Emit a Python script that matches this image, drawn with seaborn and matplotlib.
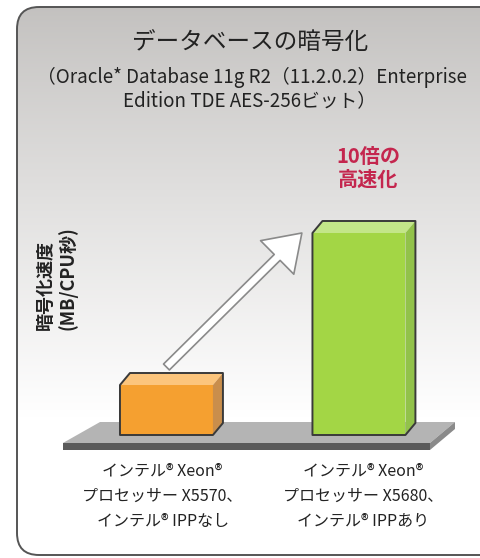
import numpy as np
import matplotlib
matplotlib.use("Agg")
import matplotlib.pyplot as plt
from matplotlib.patches import FancyBboxPatch, Polygon
import seaborn as sns

# データ
categories = [
    "インテル® Xeon®\nプロセッサー X5570、\nインテル® IPPなし",
    "インテル® Xeon®\nプロセッサー X5680、\nインテル® IPPあり",
]
speed = [1.0, 4.04]  # 相対的な暗号化速度 (棒の高さから読み取り)
front_colors = ["#f5a030", "#a3d645"]
top_colors = ["#fcc57c", "#c3e689"]
side_colors = ["#c98e4c", "#92c24a"]

title = "データベースの暗号化"
subtitle1 = "（Oracle* Database 11g R2（11.2.0.2）Enterprise"
subtitle2 = "Edition TDE AES-256ビット）"
ylabel = "暗号化速度\n(MB/CPU秒)"
callout = "10倍の\n高速化"

sns.set_theme(style="white")
plt.rcParams["font.family"] = ["Noto Sans CJK JP", "DejaVu Sans"]

W, H = 481, 558
fig = plt.figure(figsize=(W / 100, H / 100), dpi=100)
fig.patch.set_facecolor("white")

# 背景パネル (グラデーション + 角丸枠)
bg = fig.add_axes([0, 0, 1, 1])
bg.set_xlim(0, W)
bg.set_ylim(H, 0)
bg.axis("off")
t = np.clip((np.arange(H) - 7) / 410.0, 0, 1)[:, None]
top_rgb = np.array([0.765, 0.757, 0.750])
grad = top_rgb + (1 - top_rgb) * t[..., None] ** 0.9
grad = np.repeat(grad, 2, axis=1)
img = bg.imshow(grad, extent=(0, W, H, 0), aspect="auto", zorder=0)
panel = FancyBboxPatch((17, 7), 520, 548, boxstyle="round,pad=0,rounding_size=22",
                       facecolor="none", edgecolor="#555555", lw=1.4, zorder=2)
bg.add_patch(panel)
img.set_clip_path(panel)

# メインの軸
ax = fig.add_axes([50 / W, (H - 460) / H, 420 / W, 300 / H])
ax.patch.set_alpha(0)
bar_w = 0.483
sns.barplot(x=[0, 1], y=speed, hue=[0, 1], palette=front_colors, legend=False,
            saturation=1, width=bar_w, native_scale=True, ax=ax, zorder=3)
ax.set_xlim(-0.605, 1.577)
ax.set_ylim(-0.5, 5.5)
ax.axis("off")

# 奥行き (ピクセル -> データ)
dx = 10 / 192.5
dy = 12 / 50.0

# 床の板
floor_top = Polygon([(-0.538, -0.16), (-0.345, 0.26), (1.499, 0.26), (1.369, -0.16)],
                    closed=True, facecolor="#b4b4b4", edgecolor="none", zorder=1)
floor_front = Polygon([(-0.538, -0.16), (1.369, -0.16), (1.369, -0.30), (-0.538, -0.30)],
                      closed=True, facecolor="#5a5a5a", edgecolor="none", zorder=1)
floor_side = Polygon([(1.369, -0.16), (1.499, 0.26), (1.499, 0.12), (1.369, -0.30)],
                     closed=True, facecolor="#8a8a8a", edgecolor="none", zorder=1)
for p in (floor_top, floor_front, floor_side):
    ax.add_patch(p)

# 3D風の棒
for i, bar in enumerate(ax.patches[:len(speed)]):
    x0 = bar.get_x()
    x1 = x0 + bar.get_width()
    h = bar.get_height()
    bar.set_edgecolor("none")
    top = Polygon([(x0, h), (x0 + dx, h + dy), (x1 + dx, h + dy), (x1, h)],
                  closed=True, facecolor=top_colors[i], edgecolor="none", zorder=3)
    side = Polygon([(x1, h), (x1 + dx, h + dy), (x1 + dx, dy), (x1, 0)],
                   closed=True, facecolor=side_colors[i], edgecolor="none", zorder=3)
    outline = Polygon([(x0, 0), (x0, h), (x0 + dx, h + dy), (x1 + dx, h + dy),
                       (x1 + dx, dy), (x1, 0)],
                      closed=True, facecolor="none", edgecolor="#3a3a3a", lw=1.4,
                      joinstyle="round", zorder=4)
    for p in (top, side, outline):
        ax.add_patch(p)

# 矢印
ax.annotate("", xy=(1 - bar_w / 2 - 0.055, speed[1]), xytext=(0.0, speed[0] + 0.36),
            arrowprops=dict(arrowstyle="simple,head_width=3.4,head_length=2.5,tail_width=0.6",
                            mutation_scale=10, facecolor="white", edgecolor="#8a8a8a",
                            lw=1.2, shrinkA=0, shrinkB=0),
            zorder=5)

# 注記
ax.text(1.047, speed[1] + 1.3, callout, ha="center", va="center", color="#c4264e",
        fontsize=14.5, fontweight="bold", linespacing=1.15, zorder=6)

# カテゴリラベル
for i, lab in enumerate(categories):
    ax.text(i + (0.02 if i else -0.02), -0.56, lab, ha="center", va="top", fontsize=11.5,
            color="#222222", linespacing=1.6, multialignment="center", clip_on=False)

# タイトル
fig.text(250 / W, 1 - 43 / H, title, ha="center", va="center", fontsize=17, color="#222222")
fig.text(252 / W, 1 - 77 / H, subtitle1, ha="center", va="center", fontsize=13.5, color="#222222")
fig.text(250 / W, 1 - 101 / H, subtitle2, ha="center", va="center", fontsize=13.5, color="#222222")

# 縦軸ラベル
fig.text(57 / W, 1 - 278 / H, ylabel, rotation=90, ha="center", va="center",
         fontsize=13, fontweight="bold", color="#222222", linespacing=1.15,
         multialignment="left")

fig.savefig("out.png", dpi=100)
